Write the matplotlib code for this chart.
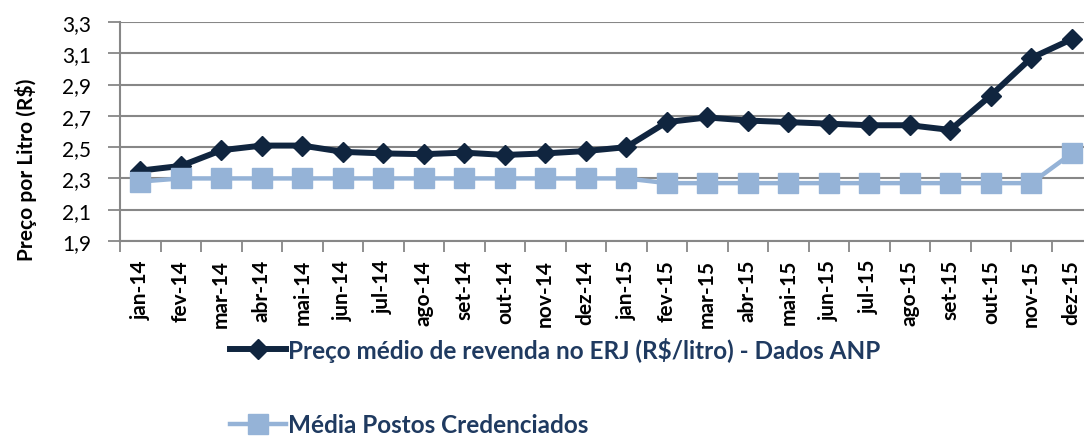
import matplotlib
matplotlib.use("Agg")
import matplotlib.pyplot as plt
from matplotlib.ticker import FixedLocator, FuncFormatter

plt.rcParams['font.family'] = ['Lato', 'DejaVu Sans']

months = ['jan-14', 'fev-14', 'mar-14', 'abr-14', 'mai-14', 'jun-14', 'jul-14', 'ago-14',
          'set-14', 'out-14', 'nov-14', 'dez-14', 'jan-15', 'fev-15', 'mar-15', 'abr-15',
          'mai-15', 'jun-15', 'jul-15', 'ago-15', 'set-15', 'out-15', 'nov-15', 'dez-15']
preco_anp = [2.35, 2.38, 2.48, 2.51, 2.51, 2.47, 2.46, 2.455, 2.465, 2.45, 2.46, 2.475,
             2.50, 2.66, 2.69, 2.67, 2.66, 2.65, 2.64, 2.64, 2.61, 2.83, 3.07, 3.19]
media_postos = [2.28, 2.30, 2.30, 2.30, 2.30, 2.30, 2.30, 2.30, 2.30, 2.30, 2.30, 2.30,
                2.30, 2.27, 2.27, 2.27, 2.27, 2.27, 2.27, 2.27, 2.27, 2.27, 2.27, 2.46]
y_ticks = [1.9, 2.1, 2.3, 2.5, 2.7, 2.9, 3.1, 3.3]
label_anp = 'Preço médio de revenda no ERJ (R$/litro) - Dados ANP'
label_postos = 'Média Postos Credenciados'
y_label = 'Preço por Litro (R$)'

dark = '#10253F'
light = '#95B3D7'
grid_c = '#878787'
text_c = '#1F3A60'

W, H = 1084, 439
fig = plt.figure(figsize=(W / 100, H / 100), dpi=100)
ax = fig.add_axes([120 / W, 1 - 242 / H, 972 / W, 219 / H])

x = list(range(len(months)))
l1, = ax.plot(x, preco_anp, color=dark, lw=4.3, marker='D', markersize=10.5,
              markeredgecolor=dark, zorder=3, label=label_anp)
l2, = ax.plot(x, media_postos, color=light, lw=3.2, marker='s', markersize=14,
              markeredgecolor=light, zorder=4, label=label_postos)

ax.set_xlim(-0.5, 23.5)
ax.set_ylim(1.9, 3.3)
ax.set_yticks(y_ticks)
ax.yaxis.set_major_formatter(FuncFormatter(lambda v, p: f'{v:.1f}'.replace('.', ',')))
ax.set_xticks(x)
ax.set_xticklabels(months, rotation=90, fontsize=15, fontweight='bold', color='black')
ax.xaxis.set_minor_locator(FixedLocator([i + 0.5 for i in range(-1, 24)]))
ax.tick_params(axis='x', which='major', length=0, pad=13)
ax.tick_params(axis='x', which='minor', length=8, width=1.3, color=grid_c)
ax.tick_params(axis='y', length=9, width=1.3, color=grid_c, labelsize=15, pad=12)

ax.grid(axis='y', color=grid_c, lw=1.5)
ax.set_axisbelow(True)
for s in ['top', 'right']:
    ax.spines[s].set_visible(False)
for s in ['left', 'bottom']:
    ax.spines[s].set_color(grid_c)
    ax.spines[s].set_linewidth(1.5)

fig.text(26 / W, 1 - 170 / H, y_label, rotation=90, ha='center', va='center',
         fontsize=15, fontweight='bold', color='black')

leg = fig.legend(handles=[l1, l2], loc='upper left', bbox_to_anchor=(230 / W, 1 - 338 / H),
                 frameon=False, fontsize=17.5, handlelength=2.3, handletextpad=0.1,
                 labelspacing=2.1, borderpad=0, borderaxespad=0)
for t in leg.get_texts():
    t.set_color(text_c)
    t.set_fontweight('bold')

fig.savefig('out.png', dpi=100)
